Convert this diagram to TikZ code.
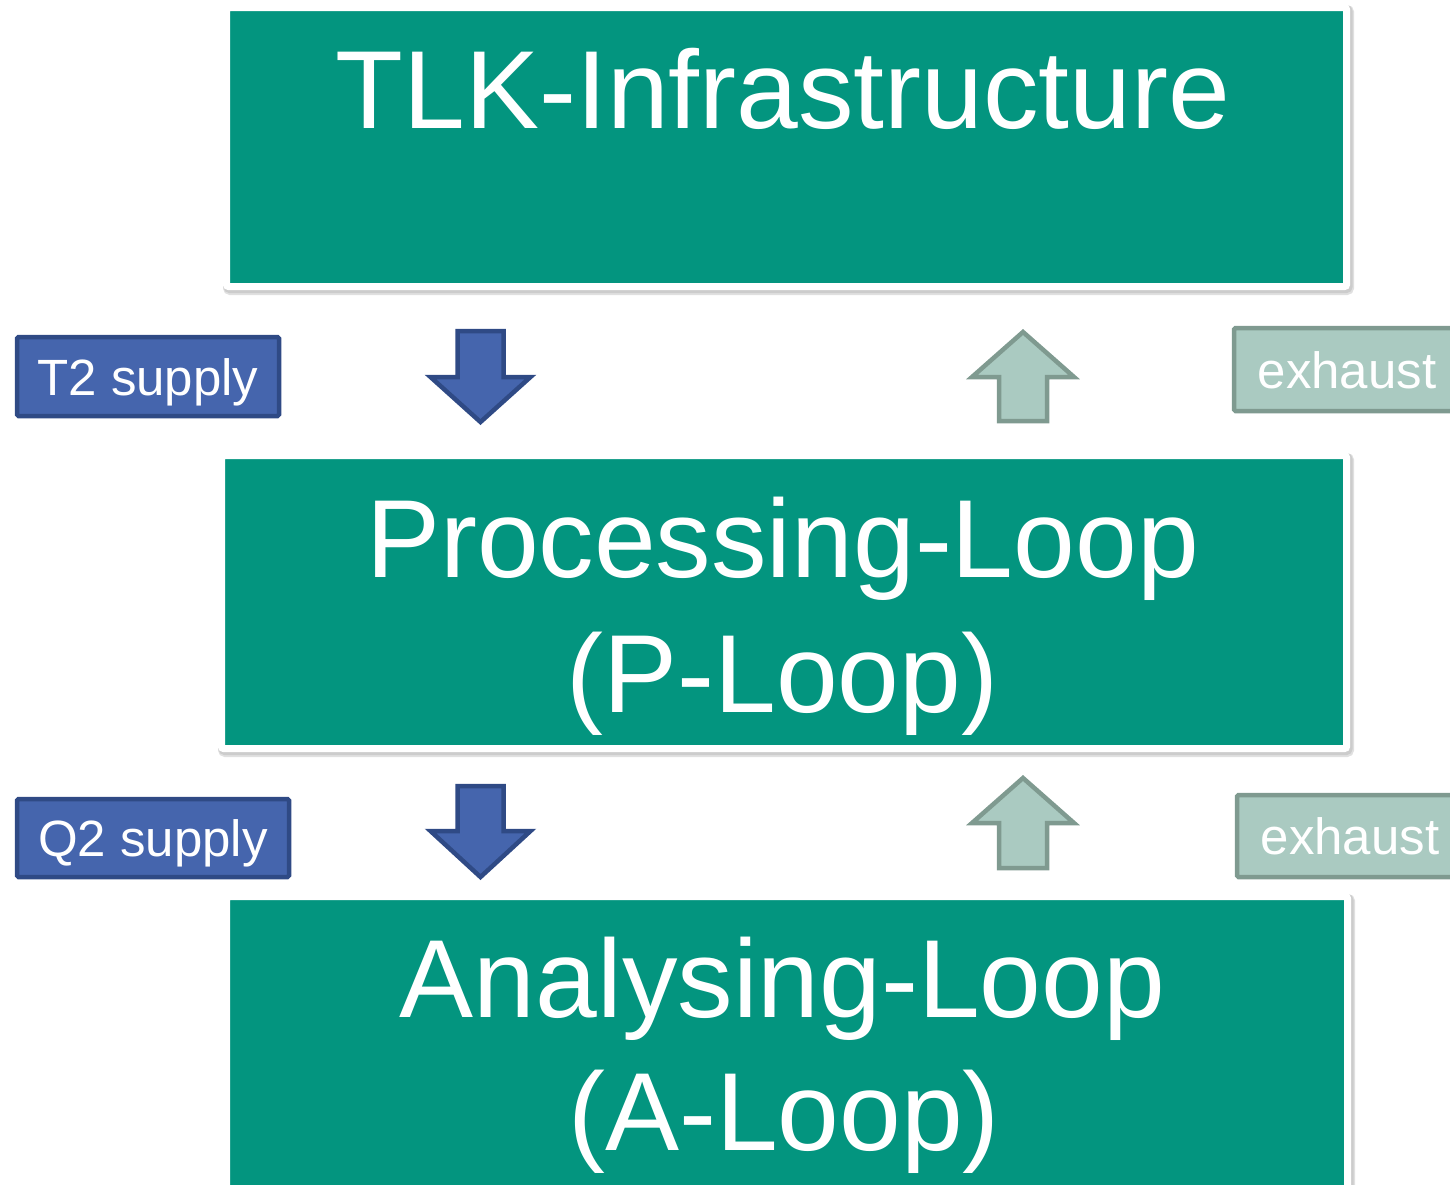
\documentclass[tikz,border=0pt]{standalone}
\usepackage{fontspec}
\setmainfont{Liberation Sans}
\usetikzlibrary{shadows}
\definecolor{teal1}{HTML}{03957F}
\definecolor{blue1}{HTML}{4565AD}
\definecolor{blueb}{HTML}{2F4A85}
\definecolor{sage1}{HTML}{AACAC1}
\definecolor{sageb}{HTML}{7F9A90}
\tikzset{
  bigbox/.style={rectangle, fill=teal1, draw=white, line width=7pt, rounded corners=2pt,
    drop shadow={shadow xshift=2pt, shadow yshift=-3pt, fill=black!12, draw=black!12, line width=11pt, opacity=1},
    drop shadow={shadow xshift=1.5pt, shadow yshift=-2pt, fill=black!20, draw=black!20, line width=9pt, opacity=1}},
  bigtext/.style={text=white, font=\fontsize{111}{135}\selectfont, anchor=base, inner sep=0pt},
  supplybox/.style={rectangle, fill=blue1, draw=blueb, line width=4.5pt, rounded corners=1.5pt,
    text=white, font=\fontsize{51}{60}\selectfont, text height=37pt, text depth=0pt, inner sep=0pt},
  exhaustbox/.style={rectangle, fill=sage1, draw=sageb, line width=4.5pt, rounded corners=1.5pt,
    text=white, font=\fontsize{51}{60}\selectfont, text height=37pt, text depth=0pt, inner sep=0pt},
  downblock/.style={fill=blue1, draw=blueb, line width=4.5pt, line join=miter},
  upblock/.style={fill=sage1, draw=sageb, line width=4.5pt, line join=miter}
}
\begin{document}
\begin{tikzpicture}[x=1pt, y=-1pt]
\useasboundingbox (0,0) rectangle (1450,1184);
% main boxes
\node[bigbox, minimum width=1120pt, minimum height=279pt] (infra) at (786.5,147) {};
\node[bigbox, minimum width=1125pt, minimum height=293pt] (ploop) at (784,602) {};
\node[bigbox, minimum width=1121pt, minimum height=320pt] (aloop) at (787,1056.5) {};
% texts
\node[bigtext] (tinfra) at (783,128) {TLK-Infrastructure};
\node[bigtext] (tp1) at (782.5,577) {Processing-Loop};
\node[bigtext] (tp2) at (782.5,712) {(P-Loop)};
\node[bigtext] (ta1) at (782.5,1017) {Analysing-Loop};
\node[bigtext] (ta2) at (784,1150) {(A-Loop)};
% labels
\node[supplybox, minimum width=262pt, minimum height=79pt] (t2) at (148,376.5) {T2 supply};
\node[supplybox, minimum width=272pt, minimum height=78pt] (q2) at (153,838) {Q2 supply};
\node[exhaustbox, minimum width=226pt, minimum height=83pt] (ex1) at (1347,369.5) {exhaust};
\node[exhaustbox, minimum width=226pt, minimum height=82pt] (ex2) at (1350,836) {exhaust};
% block arrows
\draw[downblock, shift={(480.5,331)}] (-23,0) -- (23,0) -- (23,46) -- (50,46) -- (0,91) -- (-50,46) -- (-23,46) -- cycle;
\draw[downblock, shift={(480.5,786)}] (-23,0) -- (23,0) -- (23,45) -- (50,45) -- (0,91) -- (-50,45) -- (-23,45) -- cycle;
\draw[upblock, shift={(1023,332)}] (0,0) -- (51,45) -- (24,45) -- (24,89) -- (-24,89) -- (-24,45) -- (-51,45) -- cycle;
\draw[upblock, shift={(1023,778)}] (0,0) -- (51,45) -- (24,45) -- (24,90) -- (-24,90) -- (-24,45) -- (-51,45) -- cycle;
\end{tikzpicture}
\end{document}
